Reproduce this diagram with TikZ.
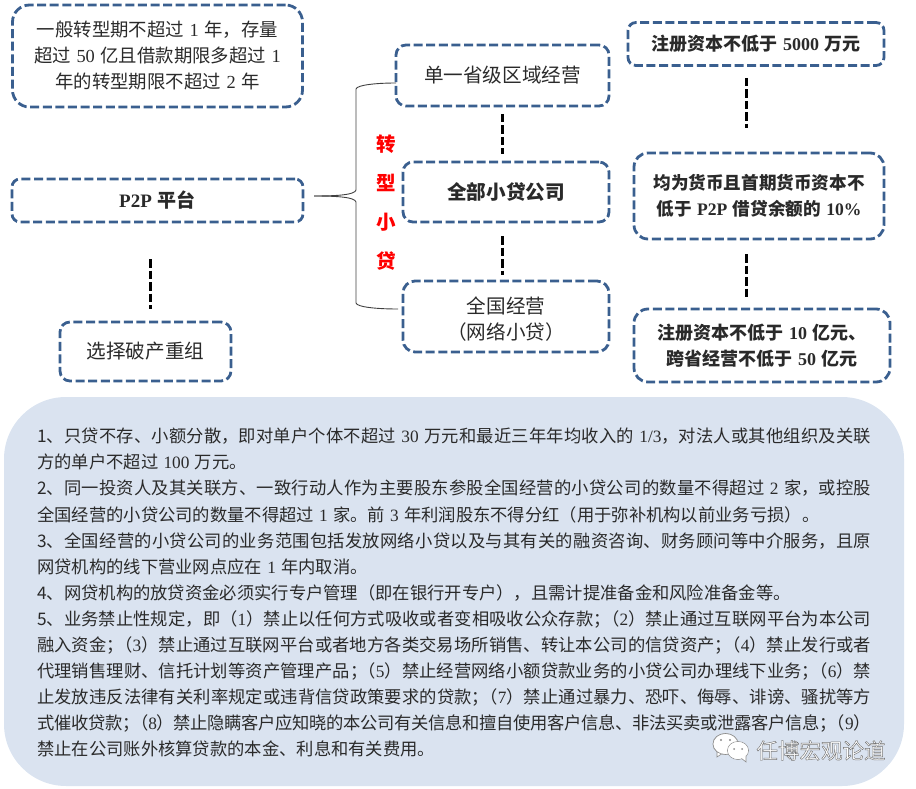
\documentclass[tikz,border=0pt]{standalone}
\usepackage{fontspec}
\setmainfont[WordSpace=1.35]{Noto Sans CJK SC}
\newfontfamily\latf{Liberation Serif}
\newcommand{\lat}[1]{{\latf #1}}
\newcommand{\semi}{；\kern-0.5em（}
\XeTeXlinebreaklocale "zh"
\XeTeXlinebreakskip=0pt plus 2pt minus 0.4pt
\definecolor{dashblue}{HTML}{3A5F8F}
\definecolor{panelblue}{HTML}{DAE3F0}
\definecolor{softtext}{HTML}{2A2A2A}
\tikzset{
  dbox/.style={draw=dashblue,line width=2.8pt,dash pattern=on 9pt off 3.6pt,align=center,inner sep=0pt,text=softtext},
  linkdash/.style={draw=black,line width=3pt,dash pattern=on 8.5pt off 3pt},
  brace/.style={draw=black!75,line width=0.9pt},
  bubble/.style={fill=white,draw=black!45,line width=0.6pt},
  eye/.style={fill=black!45,draw=none}
}
\newcommand{\tsa}{\fontsize{18.4}{26}\selectfont}
\newcommand{\tsb}{\fontsize{19.6}{26}\selectfont}
\newcommand{\tsc}{\fontsize{18}{26}\selectfont\bfseries}
\newcommand{\tsd}{\fontsize{17.6}{26}\selectfont\bfseries}
\begin{document}
\begin{tikzpicture}[x=1pt,y=-1pt]
\useasboundingbox (0,0) rectangle (916,789);
% panel
\node[name=panel,fill=panelblue,rounded corners=62pt,minimum width=900pt,minimum height=389pt,inner sep=0pt] at (454,591.5) {};
% boxes
\node[dbox,font=\tsa,rounded corners=17pt,minimum width=290pt,minimum height=102pt] (a) at (157.5,56) {一般转型期不超过 \lat{1} 年，存量\\超过 \lat{50} 亿且借款期限多超过 \lat{1}\\年的转型期限不超过 \lat{2} 年};
\node[dbox,font=\fontsize{19}{26}\selectfont\bfseries,rounded corners=8pt,minimum width=291pt,minimum height=43pt] (p2p) at (157.5,200.5) {\lat{P2P} 平台};
\node[dbox,font=\tsb,rounded corners=10pt,minimum width=171pt,minimum height=59pt] (broke) at (145.5,351.5) {选择破产重组};
\node[dbox,font=\tsb,rounded corners=10pt,minimum width=213pt,minimum height=61pt] (single) at (502.5,75.5) {单一省级区域经营};
\node[dbox,font=\tsb\bfseries,rounded corners=10pt,minimum width=206pt,minimum height=60pt] (all) at (506,192) {全部小贷公司};
\node[dbox,font=\tsb,rounded corners=12pt,minimum width=206pt,minimum height=71pt] (nation) at (506,316.5) {\rule{0pt}{22pt}全国经营\\（网络小贷）};
\node[dbox,font=\tsc,rounded corners=8pt,minimum width=256pt,minimum height=43pt] (r1) at (756,44) {注册资本不低于 \lat{5000} 万元};
\node[dbox,font=\tsd,rounded corners=14pt,minimum width=250pt,minimum height=86pt] (r2) at (759,196) {均为货币且首期货币资本不\\低于 \lat{P2P} 借贷余额的 \lat{10\%}};
\node[dbox,font=\tsc,rounded corners=14pt,minimum width=256pt,minimum height=73pt] (r3) at (762,345.5) {注册资本不低于 \lat{10} 亿元、\\跨省经营不低于 \lat{50} 亿元};
% red label
\node[name=redlabel,text=red,align=center,inner sep=0pt,font=\fontsize{19.5}{39}\selectfont\bfseries] at (386.5,202.5) {转\\型\\小\\贷};
% dashed links
\coordinate (la1) at (150.5,259); \coordinate (la2) at (150.5,309);
\coordinate (lb1) at (502.5,114); \coordinate (lb2) at (502.5,154);
\coordinate (lc1) at (502.5,236); \coordinate (lc2) at (502.5,275);
\coordinate (ld1) at (746.5,78);  \coordinate (ld2) at (746.5,128);
\coordinate (le1) at (746.5,254); \coordinate (le2) at (746.5,299);
\draw[linkdash] (la1) -- (la2);
\draw[linkdash] (lb1) -- (lb2);
\draw[linkdash] (lc1) -- (lc2);
\draw[linkdash] (ld1) -- (ld2);
\draw[linkdash] (le1) -- (le2);
% brace
\coordinate (br0) at (314,196);
\coordinate (brt) at (396,83);
\coordinate (brb) at (398,309);
\draw[brace] (br0) .. controls (336,196) and (355,195) .. (356,190) -- (356,89) .. controls (357,85) and (376,83) .. (brt);
\draw[brace] (br0) .. controls (336,196) and (355,197) .. (356,202) -- (356,303) .. controls (357,307) and (376,309) .. (brb);
% body text
\node[name=body,anchor=north west,inner sep=0pt,text width=834pt,align=justify,text=softtext] at (37,428) {\fontsize{17.3}{26.08}\selectfont\tolerance=9999\emergencystretch=6pt
1、只贷不存、小额分散，即对单户个体不超过 \lat{30} 万元和最近三年年均收入的 \lat{1/3}，对法人或其他组织及关联\linebreak
方的单户不超过 \lat{100} 万元。\par
2、同一投资人及其关联方、一致行动人作为主要股东参股全国经营的小贷公司的数量不得超过 \lat{2} 家，或控股\linebreak
全国经营的小贷公司的数量不得超过 \lat{1} 家。前 \lat{3} 年利润股东不得分红（用于弥补机构以前业务亏损）。\par
3、全国经营的小贷公司的业务范围包括发放网络小贷以及与其有关的融资咨询、财务顾问等中介服务，且原\linebreak
网贷机构的线下营业网点应在 \lat{1} 年内取消。\par
4、网贷机构的放贷资金必须实行专户管理（即在银行开专户），且需计提准备金和风险准备金等。\par
5、业务禁止性规定，即（\lat{1}）禁止以任何方式吸收或者变相吸收公众存款\semi\lat{2}）禁止通过互联网平台为本公司\linebreak
融入资金\semi\lat{3}）禁止通过互联网平台或者地方各类交易场所销售、转让本公司的信贷资产\semi\lat{4}）禁止发行或者\linebreak
代理销售理财、信托计划等资产管理产品\semi\lat{5}）禁止经营网络小额贷款业务的小贷公司办理线下业务\semi\lat{6}）禁\linebreak
止发放违反法律有关利率规定或违背信贷政策要求的贷款\semi\lat{7}）禁止通过暴力、恐吓、侮辱、诽谤、骚扰等方\linebreak
式催收贷款\semi\lat{8}）禁止隐瞒客户应知晓的本公司有关信息和擅自使用客户信息、非法买卖或泄露客户信息\semi\lat{9}）\linebreak
禁止在公司账外核算贷款的本金、利息和有关费用。\par};
% watermark
\fill[bubble] (725.5,744) ellipse (12.5pt and 10.5pt);
\fill[bubble] (717,752) -- (717,757) -- (723,753) -- cycle;
\draw[bubble] (725.5,744) ellipse (12.5pt and 10.5pt);
\fill[eye] (721,740) circle (1.1pt); \fill[eye] (730,740) circle (1.1pt);
\draw[bubble] (738,750.5) ellipse (10.5pt and 9pt);
\fill[bubble] (741,758) -- (746,762) -- (746,755) -- cycle;
\fill[white] (738,750.5) ellipse (10pt and 8.5pt);
\fill[eye] (734,749) circle (1pt); \fill[eye] (742,749) circle (1pt);
\node[name=mark,anchor=center,inner sep=0pt,font=\fontsize{21.5}{24}\selectfont] at (821,750.5) {\color{white}\special{pdf: code 2 Tr 0.45 w 0.45 0.45 0.45 RG}任博宏观论道\special{pdf: code 0 Tr}};
\end{tikzpicture}
\end{document}
